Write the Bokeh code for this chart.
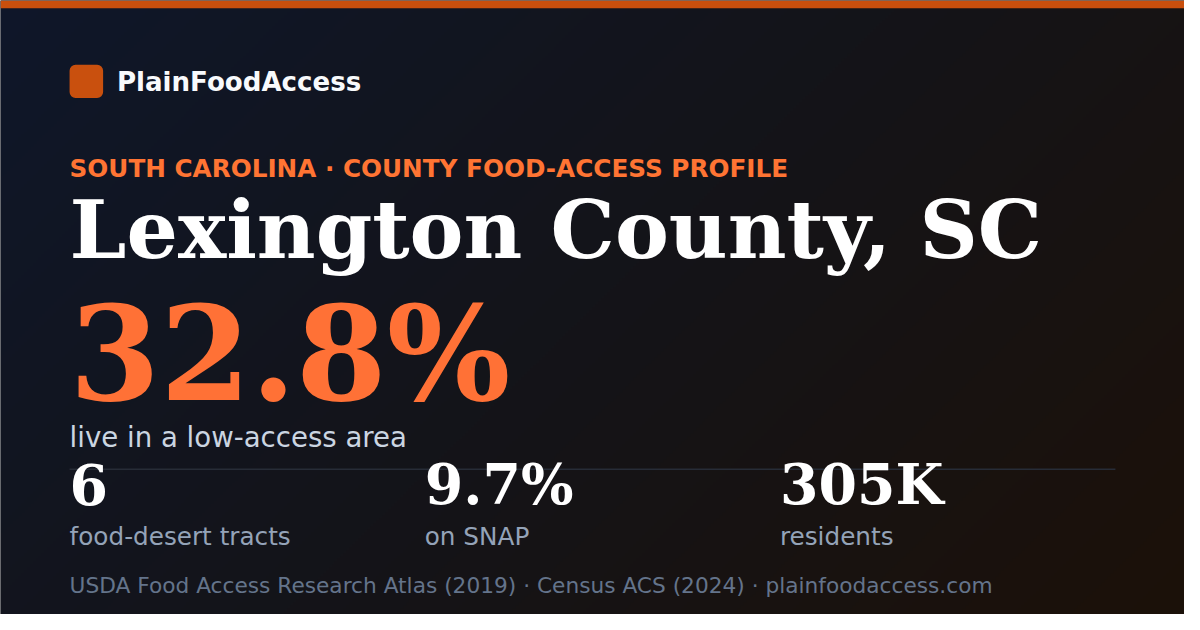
import numpy as np
from bokeh.plotting import figure
from bokeh.models import Range1d
from bokeh.core.properties import value
from bokeh.embed import file_html
from bokeh.resources import INLINE

# ---- content ----
brand = "PlainFoodAccess"
eyebrow = "SOUTH CAROLINA · COUNTY FOOD-ACCESS PROFILE"
county = "Lexington County, SC"
headline_value = "32.8%"
headline_label = "live in a low-access area"
stat_values = ["6", "9.7%", "305K"]
stat_labels = ["food-desert tracts", "on SNAP", "residents"]
source_note = "USDA Food Access Research Atlas (2019) · Census ACS (2024) · plainfoodaccess.com"

# ---- canvas ----
W, H = 1184, 614
S = W / 1200.0
p = figure(width=W, height=H, output_backend="svg", toolbar_location=None,
           x_range=Range1d(0, 1200), y_range=Range1d(630, 0), min_border=0)
p.axis.visible = False
p.grid.visible = False
p.outline_line_color = None
p.background_fill_color = "#131419"
p.border_fill_color = "#131419"

def fs(px):
    return f"{px * S:.1f}px"

# background diagonal gradient
gw, gh = 400, 210
xs = (np.arange(gw) + 0.5) / gw
ys = (np.arange(gh) + 0.5) / gh
t = (xs[None, :] * 1200 + ys[:, None] * 630) / (1200 + 630)
stops = np.array([0.0, 0.5, 1.0])
cols = np.array([[15, 23, 42], [20, 20, 25], [28, 17, 9]], dtype=float)
img = np.zeros((gh, gw), dtype=np.uint32)
view = img.view(dtype=np.uint8).reshape((gh, gw, 4))
for c in range(3):
    view[:, :, c] = np.interp(t, stops, cols[:, c]).astype(np.uint8)
view[:, :, 3] = 255
p.image_rgba(image=[img], x=0, y=0, dw=1200, dh=630)

# top bar
p.quad(left=0, right=1200, top=0, bottom=8, fill_color="#c94f0d", line_color=None)

# logo square
try:
    p.quad(left=70, right=104, top=66, bottom=100, fill_color="#c9500e",
           line_color=None, border_radius=6)
except Exception:
    p.quad(left=70, right=104, top=66, bottom=100, fill_color="#c9500e", line_color=None)

sans = value("DejaVu Sans")
serif = value("DejaVu Serif")

def txt(x, y, s, font, size, color, style="normal"):
    p.text(x=[x], y=[y], text=[s], text_font=font, text_font_size=fs(size),
           text_font_style=style, text_color=color,
           text_baseline="alphabetic", text_align="left")

# divider (drawn beneath the stat values)
p.line(x=[70, 1130], y=[481, 481], line_color="#272c37", line_width=1.5)

# (baseline target, renderer correction)
txt(118, 92 - 8, brand, sans, 26.5, "#f8fafc", "bold")
txt(70, 178 - 6, eyebrow, sans, 25, "#ff7433", "bold")
txt(70, 262 - 27, county, serif, 82, "#ffffff", "bold")
txt(70, 408 - 45, headline_value, serif, 132, "#ff7136", "bold")
txt(70, 452 - 4, headline_label, sans, 28, "#cbd5e1")

col_x = [70 + 360 * i for i in range(len(stat_values))]
p.text(x=col_x, y=[513 - 16] * len(stat_values), text=stat_values, text_font=serif,
       text_font_size=fs(56), text_font_style="bold", text_color="#ffffff",
       text_baseline="alphabetic", text_align="left")
p.text(x=col_x, y=[551 - 1] * len(stat_labels), text=stat_labels, text_font=sans,
       text_font_size=fs(25), text_color="#94a3b8",
       text_baseline="alphabetic", text_align="left")

txt(70, 600, source_note, sans, 22, "#64748b")

open("out.html", "w").write(file_html(p, INLINE))
